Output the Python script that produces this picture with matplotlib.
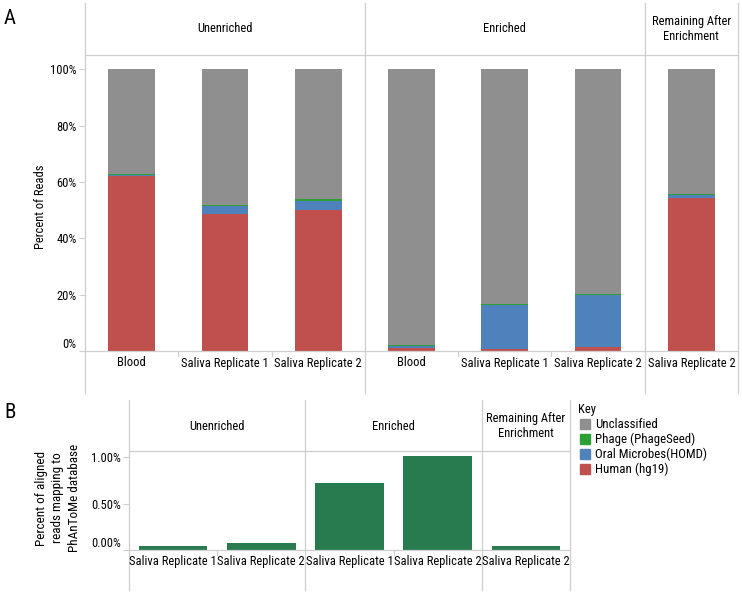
import matplotlib
matplotlib.use("Agg")
import matplotlib.pyplot as plt
from matplotlib.lines import Line2D
from matplotlib.patches import Rectangle
from matplotlib import font_manager

# ---------------- data ----------------
groups_a = ["Unenriched", "Enriched", "Remaining After\nEnrichment"]
samples_a = ["Blood", "Saliva Replicate 1", "Saliva Replicate 2",
             "Blood", "Saliva Replicate 1", "Saliva Replicate 2",
             "Saliva Replicate 2"]
group_sizes_a = [3, 3, 1]
human = [62.3, 48.8, 50.2, 1.0, 0.6, 1.4, 54.4]
oral = [0.2, 2.7, 3.2, 0.9, 15.6, 18.5, 0.9]
phage = [0.5, 0.4, 0.4, 0.4, 0.4, 0.4, 0.4]
unclassified = [100 - h - o - p for h, o, p in zip(human, oral, phage)]

groups_b = ["Unenriched", "Enriched", "Remaining After\nEnrichment"]
samples_b = ["Saliva Replicate 1", "Saliva Replicate 2",
             "Saliva Replicate 1", "Saliva Replicate 2",
             "Saliva Replicate 2"]
group_sizes_b = [2, 2, 1]
phantome_pct = [0.04, 0.07, 0.72, 1.01, 0.04]

yticks_a = [0, 20, 40, 60, 80, 100]
yticks_b = [0.0, 0.5, 1.0]

key_labels = ["Unclassified", "Phage (PhageSeed)", "Oral Microbes(HOMD)", "Human (hg19)"]

# ---------------- style ----------------
C_GRAY = "#8f8f8f"
C_GREEN = "#2ca033"
C_BLUE = "#4f81bd"
C_RED = "#c0504d"
C_BGREEN = "#277b4e"
LINE = "#cfcfcf"

entries = font_manager.fontManager.ttflist
names = {f.name for f in entries}
FS = 9
chosen = None
for cand in ["Liberation Sans Narrow", "Roboto Condensed", "Open Sans Condensed",
             "Noto Sans Condensed", "DejaVu Sans Condensed", "Arial Narrow"]:
    if cand in names:
        chosen = cand
        break
stretch = "normal"
if chosen is None:
    cond = [f for f in entries if f.name == "DejaVu Sans" and f.stretch in ("condensed", "semi-condensed")]
    if cond:
        chosen = "DejaVu Sans"
        stretch = "condensed"
    else:
        chosen = "Liberation Sans"
        FS = 8
plt.rcParams["font.family"] = [chosen, "DejaVu Sans"]
plt.rcParams["font.stretch"] = stretch

W, H = 742, 595
fig = plt.figure(figsize=(W / 100, H / 100), dpi=100)


def fx(px):
    return px / W


def fy(py):
    return 1 - py / H


def vline(x, y0, y1):
    fig.add_artist(Line2D([fx(x), fx(x)], [fy(y0), fy(y1)], color=LINE, lw=0.9,
                          transform=fig.transFigure))


def hline(y, x0, x1):
    fig.add_artist(Line2D([fx(x0), fx(x1)], [fy(y), fy(y)], color=LINE, lw=0.9,
                          transform=fig.transFigure))


def make_panel(left, right, top, bottom, header_top, label_bottom, n, sizes, groups,
               samples, ylim, yticks, yfmt, ylabel, ylabel_x, ylabel_y, head_y, lab_y,
               ylabel_fs, ylabel_ls):
    ax = fig.add_axes([fx(left), fy(bottom), fx(right) - fx(left), fy(top) - fy(bottom)])
    ax.set_xlim(-0.5, n - 0.5)
    ax.set_ylim(*ylim)
    for s in ["top", "right", "left"]:
        ax.spines[s].set_visible(False)
    ax.spines["bottom"].set_color(LINE)
    ax.spines["bottom"].set_linewidth(0.9)
    ax.set_xticks([])
    ax.set_yticks(yticks)
    ax.set_yticklabels([yfmt(v) for v in yticks], fontsize=FS)
    ax.tick_params(axis="y", length=4, color=LINE, pad=2)
    lbls = ax.get_yticklabels()
    lbls[0].set_va("bottom")
    cell = (right - left) / n
    xs = [left]
    acc = 0
    for s in sizes:
        acc += s
        xs.append(left + acc * cell)
    for x in xs:
        vline(x, header_top, label_bottom)
    hline(top, left, right)
    acc = 0
    for g, s in zip(groups, sizes):
        cx = left + (acc + s / 2) * cell
        fig.text(fx(cx), fy(head_y), g, ha="center", va="center", fontsize=FS,
                 linespacing=1.15)
        for k in range(1, s):
            tx = left + (acc + k) * cell
            fig.add_artist(Line2D([fx(tx), fx(tx)], [fy(bottom), fy(bottom + 5)],
                                  color=LINE, lw=0.9, transform=fig.transFigure))
        acc += s
    for i, lab in enumerate(samples):
        cx = left + (i + 0.5) * cell
        fig.text(fx(cx), fy(lab_y), lab, ha="center", va="center", fontsize=FS)
    fig.text(fx(ylabel_x), fy(ylabel_y), ylabel, rotation=90, ha="center", va="center",
             fontsize=ylabel_fs, linespacing=ylabel_ls)
    return ax


# ---------------- Panel A ----------------
xa = list(range(len(samples_a)))
axA = make_panel(85, 738, 55, 351, 3, 393, len(samples_a), group_sizes_a, groups_a,
                 samples_a, (0, 105.1), yticks_a, lambda v: f"{v:.0f}%",
                 "Percent of Reads", 40, 207, 29, 363, FS, 1.1)
bw = 0.5
b = [0] * len(xa)
for vals, col in [(human, C_RED), (oral, C_BLUE), (phage, C_GREEN), (unclassified, C_GRAY)]:
    axA.bar(xa, vals, bw, bottom=b, color=col, linewidth=0)
    b = [bb + v for bb, v in zip(b, vals)]

# ---------------- Panel B ----------------
xb = list(range(len(samples_b)))
axB = make_panel(129, 570, 451, 550, 400, 590, len(samples_b), group_sizes_b, groups_b,
                 samples_b, (0, 1.065), yticks_b, lambda v: f"{v:.2f}%",
                 "Percent of aligned\nreads mapping to\nPhAnToMe database", 58, 498, 426, 562,
                 FS + 0.5, 1.3)
axB.bar(xb, phantome_pct, 0.78, color=C_BGREEN, linewidth=0)

# ---------------- panel letters ----------------
fig.text(fx(10), fy(18), "A", fontsize=15, ha="center", va="center")
fig.text(fx(10), fy(412), "B", fontsize=15, ha="center", va="center")

# ---------------- Key ----------------
fig.text(fx(578), fy(409), "Key", fontsize=FS, ha="left", va="center")
for i, (lab, col) in enumerate(zip(key_labels, [C_GRAY, C_GREEN, C_BLUE, C_RED])):
    yc = 424 + i * 15
    fig.add_artist(Rectangle((fx(580), fy(yc + 5)), fx(10), 10 / H, color=col,
                             transform=fig.transFigure))
    fig.text(fx(595), fy(yc), lab, fontsize=FS + 0.3, ha="left", va="center")

fig.savefig("out.png", dpi=100)
